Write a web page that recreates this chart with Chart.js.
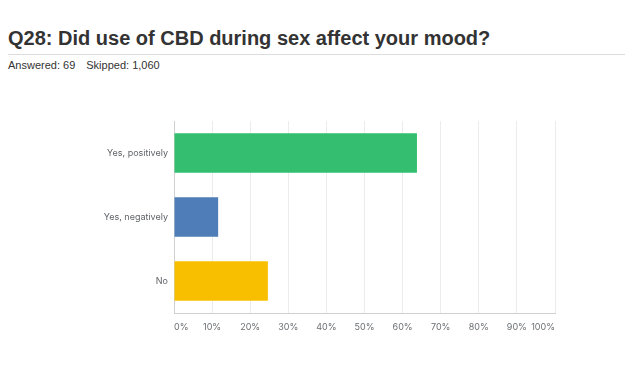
<!DOCTYPE html>
<html>
<head>
<meta charset="utf-8">
<script src="https://cdn.jsdelivr.net/npm/chart.js@4/dist/chart.umd.min.js"></script>
<style>
  body { margin: 0; background: #fff; width: 625px; height: 377px; overflow: hidden; position: relative; }
  h1 { position: absolute; left: 8px; top: 28px; margin: 0; font: bold 20px/20px "Liberation Sans", Arial, sans-serif; color: #333; }
  .rule { position: absolute; left: 8px; right: 0; top: 53.5px; height: 0; border-top: 1.5px solid #ddd; }
  .meta { position: absolute; left: 8px; top: 59.5px; font: 11px/11px "Liberation Sans", Arial, sans-serif; color: #333; }
  .meta span { margin-right: 11px; }
  #wrap { position: absolute; left: 0; top: 100px; width: 625px; height: 250px; }
</style>
</head>
<body>
<h1>Q28: Did use of CBD during sex affect your mood?</h1>
<div class="rule"></div>
<div class="meta"><span>Answered: 69</span>Skipped: 1,060</div>
<div id="wrap"><canvas id="chart"></canvas></div>
<script>
// Réponses et pourcentages
const answers = ['Yes, positively', 'Yes, negatively', 'No'];
const percents = [63.77, 11.59, 24.64];
const barColors = ['#33BF6F', '#4F7DB7', '#F8BF00'];
const xTicks = [0, 10, 20, 30, 40, 50, 60, 70, 80, 90, 100];

document.addEventListener('DOMContentLoaded', () => {
    const ctx = document.getElementById('chart').getContext('2d');
    new Chart(ctx, {
        type: 'bar',
        data: {
            labels: answers,
            datasets: [{
                data: percents,
                backgroundColor: barColors,
                borderWidth: 0,
                barPercentage: 0.62,
                categoryPercentage: 1
            }]
        },
        options: {
            indexAxis: 'y',
            responsive: true,
            maintainAspectRatio: false,
            animation: false,
            layout: { padding: { top: 21, right: 70, left: 0, bottom: 0 } },
            plugins: { legend: { display: false }, tooltip: { enabled: false } },
            scales: {
                x: {
                    min: 0,
                    max: 100,
                    afterBuildTicks: (scale) => { scale.ticks = xTicks.map(v => ({ value: v })); },
                    afterFit: (scale) => { scale.height = 37; },
                    grid: { color: '#ececec', lineWidth: 1, drawTicks: false },
                    border: { color: '#d0d0d0' },
                    ticks: {
                        align: 'inner',
                        padding: 9,
                        maxRotation: 0,
                        autoSkip: false,
                        color: '#6b6f73',
                        font: { family: 'Inter', size: 9 },
                        callback: (v) => v + '%'
                    }
                },
                y: {
                    afterFit: (scale) => { scale.width = 174; },
                    grid: { display: false, drawTicks: false },
                    border: { color: '#d0d0d0' },
                    ticks: {
                        padding: 6,
                        color: '#5f6368',
                        font: { family: 'Inter', size: 9 }
                    }
                }
            }
        }
    });
});
</script>
</body>
</html>
